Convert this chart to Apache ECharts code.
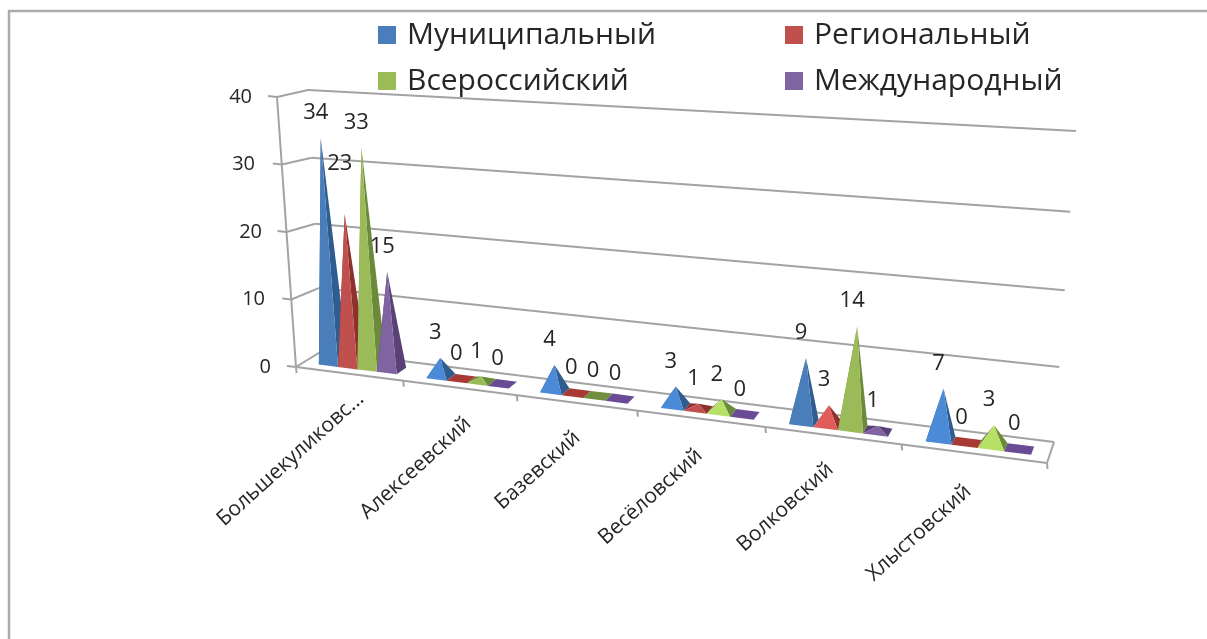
<!DOCTYPE html>
<html><head><meta charset="utf-8">
<style>html,body{margin:0;padding:0;background:#fff}#c{width:1207px;height:639px}</style>
<script src="https://cdn.jsdelivr.net/npm/echarts@6/dist/echarts.min.js"></script>
</head><body><div id="c"></div>
<script>
const categories = ['Большекуликовс...','Алексеевский','Базевский','Весёловский','Волковский','Хлыстовский'];
const municipal = [34,3,4,3,9,7];
const regional = [23,0,0,1,3,0];
const allRussian = [33,1,0,2,14,3];
const international = [15,0,0,0,1,0];
const seriesNames = ['Муниципальный','Региональный','Всероссийский','Международный'];
const valueTicks = [0,10,20,30,40];

const FONT = '"Open Sans", sans-serif';
const TEXT = '#262626', GRIDLINE = '#a3a3a3';
const FRONT = ['#4a7ebb','#c0504d','#9bbb59','#8064a2'];
const LIGHT = ['#4a8ad6','#e05c5a','#b7e066','#8a6cb0'];
const SIDE = ['#2f5d8f','#8e302e','#6b8a3a','#5a4178'];
const FLAT = ['#3a6ea8','#a83a36','#70903f','#6a4c96'];

// Perspective box of the Excel 3-D chart: u along categories, v into depth, h up
const BOX = {
  f0l:[296,367], f0r:[1047,463], b0l:[322,351], b0r:[1054,442],
  f1l:[277,97],  f1r:[1073,143], b1l:[308,90],  b1r:[1076,131]
};
const lerp = (a,b,t)=>[a[0]+(b[0]-a[0])*t, a[1]+(b[1]-a[1])*t];
function project(u,v,h){
  const up = u/(1+0.2*(1-u));
  const hb = h/(1+0.05*(1-h));
  const hh = h+(hb-h)*v;
  const f0 = lerp(BOX.f0l,BOX.f0r,up), b0 = lerp(BOX.b0l,BOX.b0r,up);
  const f1 = lerp(BOX.f1l,BOX.f1r,up), b1 = lerp(BOX.b1l,BOX.b1r,up);
  return lerp(lerp(f0,b0,v), lerp(f1,b1,v), hh);
}
function norm(pt,cs){ return [(pt[0]-cs.x)/cs.width, (cs.y+cs.height-pt[1])/cs.height]; }

const V0 = 0.28, V1 = 0.68, GROUP_START = 0.15, BAR_SHARE = 0.1825;
const LABEL_DX = -5, LABEL_DY = -25;
const labelLift = {'0,1':25};
const catNudgeX = [12,9,1,-1,-2,-5], catNudgeY = [22,33,32,34,31,35];

function pyramid(si){
  return function(params, api){
    const cs = params.coordSys;
    const i = api.value(0), val = api.value(1);
    const slot = api.size([1,0])[0]/cs.width;
    const c0 = norm(api.coord([i,0]),cs);
    const top = norm(api.coord([i,val]),cs);
    const slotLeft = c0[0]-slot/2;
    const u0 = slotLeft+slot*(GROUP_START+BAR_SHARE*si);
    const u1 = u0+slot*BAR_SHARE;
    const um = (u0+u1)/2, vm=(V0+V1)/2;
    const a = project(u0,V0,0), b = project(u1,V0,0), d = project(u1,V1,0), e = project(u0,V1,0);
    const apex = project(um,vm,val===0?0:top[1]-0.008);
    const kids = [];
    if(val===0){
      kids.push({type:'polygon',shape:{points:[a,b,d,e]},style:{fill:FLAT[si]}});
    } else {
      const fill = val<=7 && val>1 ? LIGHT[si] : FRONT[si];
      kids.push({type:'polygon',shape:{points:[a,e,apex]},style:{fill:SIDE[si]}});
      kids.push({type:'polygon',shape:{points:[b,d,apex]},style:{fill:SIDE[si]}});
      kids.push({type:'polygon',shape:{points:[a,b,apex]},style:{fill:fill}});
    }
    const lift = labelLift[i+','+si]||0;
    kids.push({type:'text',z2:20,x:apex[0]+LABEL_DX,y:apex[1]+LABEL_DY-lift,
      style:{text:String(val),font:'22px '+FONT,fill:TEXT,align:'center',verticalAlign:'middle'}});
    return {type:'group',children:kids};
  };
}
const seg=(p,q)=>({type:'line',shape:{x1:p[0],y1:p[1],x2:q[0],y2:q[1]},style:{stroke:GRIDLINE,lineWidth:2}});
function frame(params, api){
  const cs = params.coordSys;
  const h = norm(api.coord([0,api.value(0)]),cs)[1];
  const f=project(0,0,h), b=project(0,1,h), r=project(1,1,h);
  return {type:'group',children:[seg(f,b),seg(b,r),seg([f[0]-9,f[1]-1],f)]};
}
function floor(params, api){
  const kids=[seg(project(0,0,0),project(1,0,0)),seg(project(1,0,0),project(1,1,0)),seg(project(0,0,1),project(0,0,0))];
  for(let k=0;k<=categories.length;k++){
    const p=project(k/categories.length,0,0);
    kids.push(seg(p,[p[0]+0.5,p[1]+6]));
  }
  return {type:'group',children:kids};
}
function catLabel(params, api){
  const cs = params.coordSys;
  const i = api.value(0);
  const u = norm(api.coord([i,0]),cs)[0];
  const p = project(u,0,0);
  return {type:'text',x:p[0]+catNudgeX[i],y:p[1]+catNudgeY[i],rotation:42*Math.PI/180,
    style:{text:categories[i],font:'21px '+FONT,fill:TEXT,align:'right',verticalAlign:'middle'}};
}

const tickPad = {40:19,30:16,20:9,10:6,0:0};
const rich = {};
valueTicks.forEach(t=>{rich['t'+t]={fontFamily:FONT,fontSize:20,color:TEXT,padding:[0,tickPad[t],0,0]};});

const values = [municipal,regional,allRussian,international];
const option = {
  animation:false,
  backgroundColor:'#fff',
  color:FRONT,
  graphic:[{type:'polyline',silent:true,shape:{points:[[9,639],[9,11],[1207,11]]},style:{fill:'none',stroke:'#ababab',lineWidth:2.5}}],
  grid:{left:296,top:97,width:751,height:270,containLabel:false},
  legend:[
    {left:373,top:15,orient:'vertical',itemWidth:18,itemHeight:18,itemGap:16,icon:'rect',data:[seriesNames[0],seriesNames[2]],
     textStyle:{fontFamily:FONT,fontSize:30,color:TEXT,padding:[0,0,0,6]}},
    {left:780,top:15,orient:'vertical',itemWidth:18,itemHeight:18,itemGap:16,icon:'rect',data:[seriesNames[1],seriesNames[3]],
     textStyle:{fontFamily:FONT,fontSize:30,color:TEXT,padding:[0,0,0,6]}}
  ],
  xAxis:{type:'category',data:categories,axisLine:{show:false},axisTick:{show:false},axisLabel:{show:false},splitLine:{show:false}},
  yAxis:{type:'value',min:0,max:40,interval:10,axisLine:{show:false},axisTick:{show:false},splitLine:{show:false},
    axisLabel:{margin:25,formatter:v=>'{t'+v+'|'+v+'}',rich:rich}},
  series:[
    {type:'custom',name:'frame',silent:true,data:valueTicks.map(t=>[t]),encode:{y:0},renderItem:frame,z:1},
    {type:'custom',name:'floor',silent:true,data:[[0]],renderItem:floor,z:1},
    {type:'custom',name:'cats',silent:true,data:categories.map((c,i)=>[i]),encode:{x:0},renderItem:catLabel,z:1}
  ].concat(seriesNames.map((n,si)=>({
    type:'custom',name:n,itemStyle:{color:FRONT[si]},z:2,
    data:values[si].map((v,i)=>[i,v]),encode:{x:0,y:1},renderItem:pyramid(si)
  })))
};
const chart = echarts.init(document.getElementById('c'),null,{renderer:'canvas'});
chart.setOption(option);
</script></body></html>
